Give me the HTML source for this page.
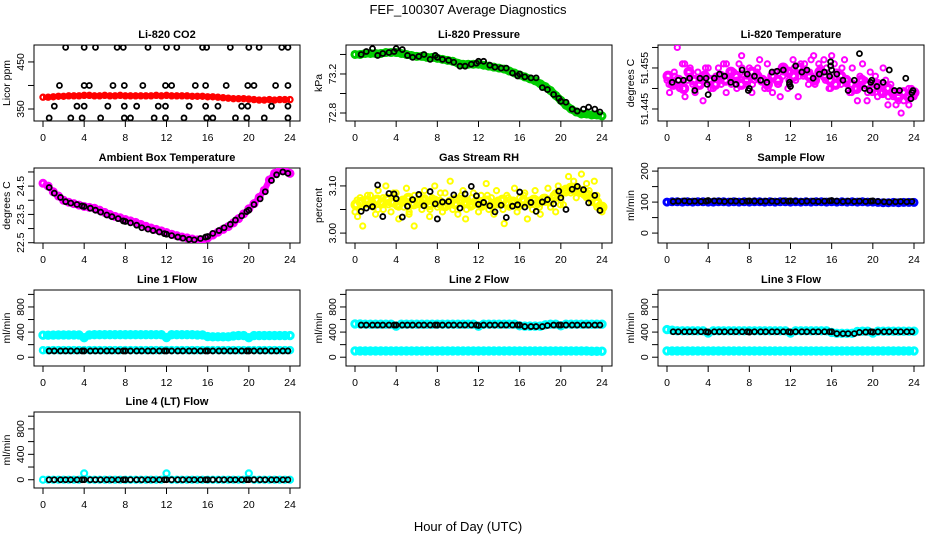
<!DOCTYPE html>
<html><head><meta charset="utf-8">
<style>
html,body{margin:0;padding:0;background:#fff;}
svg{display:block;font-family:"Liberation Sans",sans-serif;}
</style></head>
<body>
<svg id="chart" width="936" height="540" viewBox="0 0 936 540" xmlns="http://www.w3.org/2000/svg">
<text x="468" y="14" text-anchor="middle" font-size="13">FEF_100307  Average Diagnostics</text>
<text x="468" y="531" text-anchor="middle" font-size="13">Hour of Day (UTC)</text>
</svg>
<script>
// ---------- data ----------
const xTicks = [0,4,8,12,16,20,24];
const blackHours = [0.6,1.1,1.7,2.2,2.7,3.3,3.8,4.0,4.6,5.1,5.6,6.2,6.7,7.3,7.8,8.0,8.5,9.1,9.6,10.2,10.7,11.3,11.8,12.0,12.5,13.1,13.6,14.2,14.7,15.3,15.8,16.0,16.5,17.1,17.6,18.2,18.7,19.3,19.8,20.0,20.5,21.1,21.6,22.2,22.7,23.3,23.8];

const co2Red = [375,375,376,377,377,378,378,378,379,379,378,378,379,378,378,379,378,378,378,378,378,378,379,378,379,378,378,378,378,377,377,377,376,376,375,374,373,372,372,372,371,370,369,369,370,369,370,370,370];
const co2BlackX = [2.2,4,5.1,7.2,7.8,10.2,12,13,15.5,15.9,18.2,20,21,23.2,23.8, 1.6,4,4.5,6.8,7.9,9.7,11.9,12.5,14.8,15.8,17.8,19.9,20.5,22.6,23.8, 1.1,3.3,4,6.3,7.9,9.1,11.2,11.9,14.2,15.8,17,19.3,19.9,22.2,23.8, 0.6,2.7,3.8,5.6,7.9,8.5,10.8,11.9,13.7,15.9,16.5,18.7,19.8,21.5,23.8];
const co2BlackY = [481,481,481,481,481,481,481,481,481,481,481,481,481,481,481, 400,400,400,400,400,400,400,400,400,400,400,400,400,400,400, 356,356,356,356,356,356,356,356,356,356,356,356,356,356,356, 331,331,331,331,331,331,331,331,331,331,331,331,331,331,331];

const pressGreen = [73.40,73.40,73.41,73.41,73.41,73.41,73.42,73.42,73.42,73.41,73.40,73.39,73.38,73.38,73.37,73.37,73.36,73.35,73.34,73.33,73.31,73.30,73.30,73.30,73.30,73.29,73.28,73.27,73.26,73.25,73.23,73.21,73.19,73.17,73.15,73.13,73.10,73.07,73.03,72.98,72.93,72.88,72.84,72.81,72.79,72.79,72.78,72.78,72.77];
const pressBlack = [73.40,73.43,73.46,73.39,73.41,73.42,73.43,73.46,73.45,73.39,73.37,73.38,73.40,73.35,73.39,73.37,73.35,73.34,73.32,73.28,73.28,73.30,73.31,73.33,73.33,73.29,73.27,73.26,73.26,73.21,73.18,73.20,73.17,73.16,73.16,73.06,73.04,72.99,72.95,72.92,72.91,72.84,72.82,72.84,72.86,72.84,72.81];

const liTempMagenta = [51.452,51.449,51.451,51.453,51.460,51.450,51.456,51.448,51.452,51.455,51.451,51.450,51.454,51.452,51.447,51.453,51.455,51.451,51.450,51.453,51.455,51.452,51.456,51.449,51.453,51.451,51.454,51.452,51.456,51.458,51.453,51.451,51.455,51.449,51.452,51.454,51.457,51.452,51.450,51.456,51.452,51.449,51.454,51.451,51.448,51.453,51.455,51.450,51.454,51.457,51.452,51.448,51.456,51.453,51.454,51.451,51.457,51.458,51.452,51.456,51.454,51.457,51.455,51.450,51.458,51.456,51.454,51.452,51.455,51.457,51.451,51.449,51.455,51.450,51.447,51.453,51.456,51.452,51.449,51.454,51.451,51.453,51.450,51.449,51.455,51.452,51.448,51.451,51.449,51.446,51.449,51.444,51.447,51.448,51.446,51.450,51.448];
const liTempMagenta2 = [51.451,51.454,51.450,51.456,51.453,51.449,51.452,51.455,51.450,51.453,51.451,51.456,51.452,51.450,51.455,51.453,51.451,51.455,51.452,51.450,51.453,51.451,51.454,51.452,51.455,51.453,51.456,51.454,51.451,51.455,51.452,51.450,51.454,51.451,51.452,51.449,51.450,51.451,51.447,51.449,51.448,51.450,51.446,51.448,51.447,51.449,51.450,51.448];
const liTempMagenta3 = [51.453,51.451,51.452,51.450,51.454,51.452,51.451,51.453,51.452,51.451,51.453,51.452,51.454,51.453,51.451,51.452,51.454,51.453,51.452,51.451,51.453,51.452,51.455,51.454,51.453,51.455,51.454,51.453,51.452,51.454,51.453,51.452,51.451,51.453,51.452,51.451,51.450,51.452,51.451,51.450,51.451,51.449,51.450,51.449,51.448,51.449,51.448,51.449];
const liTempBlackX = [0.5,1.1,1.6,2.2,2.7,3.2,3.8,3.9,4,4.6,5.1,5.6,6.2,6.7,7.3,7.8,7.9,8,8.5,9.1,9.7,10.2,10.7,11.3,11.9,11.9,12,12.5,13.1,13.6,14.2,14.8,15.3,15.8,15.9,15.9,16,16.5,17.1,17.6,18.2,18.7,19.2,19.7,19.8,19.9,20.4,21,21.6,22.1,22.6,23.2,23.7,23.8,23.9];
const liTempBlackY = [51.4515,51.452,51.452,51.4525,51.4495,51.4525,51.4525,51.451,51.4485,51.4525,51.4535,51.453,51.4515,51.451,51.4545,51.4535,51.4495,51.450,51.453,51.452,51.4515,51.454,51.4542,51.4545,51.4515,51.451,51.4505,51.4555,51.454,51.4545,51.4525,51.4535,51.454,51.453,51.4555,51.4565,51.4545,51.4535,51.452,51.4495,51.452,51.4585,51.450,51.4495,51.4515,51.452,51.4505,51.4515,51.4545,51.4495,51.4495,51.4525,51.4475,51.449,51.4495];

const ambMagenta = [24.6,24.5,24.3,24.15,24.0,23.93,23.88,23.83,23.78,23.75,23.72,23.65,23.57,23.5,23.43,23.38,23.32,23.27,23.22,23.15,23.08,23.02,22.97,22.92,22.86,22.8,22.75,22.7,22.67,22.63,22.6,22.6,22.67,22.77,22.87,22.97,23.07,23.2,23.35,23.52,23.7,23.88,24.1,24.35,24.72,24.95,25.05,25.05,24.95];
const ambBlack = [24.45,24.25,24.1,23.95,23.9,23.85,23.8,23.78,23.72,23.65,23.58,23.48,23.42,23.35,23.27,23.25,23.2,23.12,23.03,22.98,22.93,22.88,22.82,22.8,22.75,22.7,22.66,22.62,22.6,22.65,22.7,22.72,22.83,22.93,23.03,23.15,23.3,23.45,23.6,23.65,23.85,24.05,24.3,24.7,24.9,25.0,24.95];

const rhYellow = [3.045,3.035,3.075,3.015,3.060,3.070,3.080,3.055,3.040,3.090,3.065,3.050,3.100,3.060,3.045,3.075,3.085,3.030,3.065,3.055,3.095,3.040,3.070,3.015,3.060,3.080,3.050,3.090,3.065,3.035,3.075,3.100,3.055,3.070,3.045,3.085,3.060,3.110,3.050,3.075,3.040,3.065,3.090,3.030,3.070,3.055,3.085,3.060,3.045,3.080,3.065,3.105,3.050,3.075,3.040,3.090,3.060,3.070,3.020,3.080,3.055,3.065,3.095,3.045,3.075,3.060,3.085,3.030,3.070,3.050,3.090,3.060,3.040,3.075,3.065,3.095,3.055,3.080,3.045,3.100,3.070,3.060,3.085,3.120,3.090,3.110,3.075,3.095,3.125,3.080,3.105,3.090,3.065,3.110,3.080,3.060,3.050];
const rhYellow2 = [3.070,3.055,3.080,3.060,3.050,3.075,3.065,3.085,3.055,3.070,3.045,3.080,3.060,3.075,3.050,3.065,3.085,3.055,3.070,3.060,3.080,3.050,3.075,3.065,3.055,3.080,3.060,3.070,3.050,3.075,3.065,3.055,3.080,3.060,3.070,3.055,3.075,3.065,3.085,3.060,3.095,3.085,3.100,3.090,3.075,3.070,3.055,3.045];
const rhYellow3 = [3.060,3.065,3.068,3.062,3.070,3.064,3.072,3.066,3.060,3.068,3.074,3.062,3.066,3.070,3.060,3.068,3.064,3.058,3.066,3.062,3.070,3.064,3.060,3.066,3.062,3.068,3.060,3.064,3.070,3.062,3.066,3.060,3.068,3.064,3.070,3.066,3.072,3.068,3.078,3.085,3.090,3.095,3.092,3.088,3.082,3.075,3.065,3.055];
const rhBlack = [3.046,3.053,3.056,3.102,3.035,3.084,3.083,3.073,3.034,3.057,3.071,3.082,3.058,3.088,3.062,3.030,3.066,3.067,3.081,3.053,3.083,3.099,3.079,3.061,3.065,3.058,3.045,3.059,3.033,3.057,3.060,3.087,3.055,3.065,3.046,3.066,3.071,3.062,3.089,3.075,3.050,3.093,3.099,3.092,3.064,3.080,3.048];

const sampleBlue = [100,101,101,100,101,100,101,101,100,100,101,101,100,101,100,101,100,101,101,100,101,100,101,101,100,101,100,101,100,101,101,100,101,100,101,100,101,100,101,100,100,99,98,98,99,98,99,99,99];
const sampleBlack = [102,103,104,102,103,102,103,105,104,103,102,103,103,102,103,104,103,102,103,103,102,104,103,104,103,102,103,103,102,103,104,105,103,102,103,102,103,102,103,104,102,101,100,101,102,101,102];

const line1Hi = [350,350,352,355,355,355,355,355,310,355,358,358,358,358,358,358,358,358,358,358,358,358,358,358,312,358,358,358,358,358,355,355,328,325,325,325,325,338,345,345,310,345,345,345,345,345,345,345,345];
const line1Lo = [110,110,112,112,112,112,112,112,112,112,112,112,112,112,112,112,112,112,112,112,112,112,112,112,112,112,112,112,112,112,112,112,112,112,112,112,112,112,112,112,112,112,112,112,112,112,112,112,112];
const line1Black = [100,100,100,100,100,100,100,100,100,100,100,100,100,100,100,100,100,100,100,100,100,100,100,100,100,100,100,100,100,100,100,100,100,100,100,100,100,100,100,100,100,100,100,100,100,100,100];

const line2Hi = [530,530,525,525,525,525,525,525,495,525,525,525,525,525,525,525,525,525,525,525,525,525,525,525,495,525,525,525,525,525,525,525,500,495,495,495,495,515,525,525,500,525,525,525,525,525,525,525,525];
const line2Lo = [100,100,100,100,100,100,100,100,100,100,100,100,100,100,100,100,100,100,100,100,100,100,100,100,100,100,100,100,100,100,100,100,100,100,100,100,100,100,100,100,100,100,100,100,100,100,95,95,95];
const line2Black = [512,512,512,512,512,512,512,512,512,512,512,512,512,512,512,512,512,512,512,512,512,512,512,505,512,512,512,512,512,512,512,512,488,488,488,488,505,512,512,512,512,512,512,512,512,512,512];

const line3Hi = [440,430,420,420,420,420,420,420,385,420,420,420,420,420,420,420,420,420,420,420,420,420,420,420,385,420,420,420,420,420,420,420,395,380,380,380,380,410,415,415,385,415,415,415,415,415,415,415,415];
const line3Lo = [100,100,100,100,100,100,100,100,100,100,100,100,100,100,100,100,100,100,100,100,100,100,100,100,100,100,100,100,100,100,100,100,100,100,100,100,100,100,100,100,100,100,100,100,100,100,100,100,100];
const line3Black = [405,405,405,405,405,405,405,400,405,405,405,405,405,405,405,400,405,405,405,405,405,405,405,400,405,405,405,405,405,405,405,405,375,375,375,375,395,400,405,400,405,405,405,405,405,405,405];

const line4Cyan = [0,0,0,0,0,0,0,0,100,0,0,0,0,0,0,0,0,0,0,0,0,0,0,0,100,0,0,0,0,0,0,0,0,0,0,0,0,0,0,0,100,0,0,0,0,0,0,0,0];
const line4Black = [0,0,0,0,0,0,0,0,0,0,0,0,0,0,0,0,0,0,0,0,0,0,0,0,0,0,0,0,0,0,0,0,0,0,0,0,0,0,0,0,0,0,0,0,0,0,0];

// ---------- drawing ----------
const NS = "http://www.w3.org/2000/svg";
const svg = document.getElementById("chart");
const colX = [34,346,658];
const rowY = [[45,121],[168,243],[290,366],[412,488]];
const BOXW = 266;

function mk(tag){ return document.createElementNS(NS, tag); }

function makePanel(col,row,title,ylab,yMin,yMax,ticks,labels,key){
  const x0 = colX[col], yT = rowY[row][0], yB = rowY[row][1];
  const g = mk("g");
  
  
  svg.appendChild(g);
  const P = {g, xs:h => x0 + 9 + h*(247/24), ys:v => yB - (v - yMin)/(yMax - yMin)*(yB - yT)};
  const rect = mk("rect");
  
  
  rect.setAttribute("x", x0); rect.setAttribute("y", yT);
  rect.setAttribute("width", BOXW); rect.setAttribute("height", yB - yT);
  rect.setAttribute("fill", "none"); rect.setAttribute("stroke", "#000"); rect.setAttribute("stroke-width", "1");
  g.appendChild(rect);
  const t = mk("text");
  
  
  t.setAttribute("x", x0 + BOXW/2); t.setAttribute("y", yT - 7);
  t.setAttribute("text-anchor", "middle"); t.setAttribute("font-size", "11"); t.setAttribute("font-weight", "bold");
  t.textContent = title; g.appendChild(t);
  xTicks.forEach(h => {
    const px = P.xs(h);
    const l = mk("line");
    
    
    l.setAttribute("x1", px); l.setAttribute("x2", px); l.setAttribute("y1", yB); l.setAttribute("y2", yB + 6);
    l.setAttribute("stroke", "#000"); g.appendChild(l);
    const tx = mk("text");
    
    
    tx.setAttribute("x", px); tx.setAttribute("y", yB + 20);
    tx.setAttribute("text-anchor", "middle"); tx.setAttribute("font-size", "10.5");
    tx.textContent = h; g.appendChild(tx);
  });
  const ax = mk("line");
  
  
  ax.setAttribute("x1", P.xs(0)); ax.setAttribute("x2", P.xs(24)); ax.setAttribute("y1", yB); ax.setAttribute("y2", yB);
  ax.setAttribute("stroke", "#000"); g.appendChild(ax);
  ticks.forEach((v,i) => {
    const py = P.ys(v);
    const l = mk("line");
    
    
    l.setAttribute("x1", x0 - 6); l.setAttribute("x2", x0); l.setAttribute("y1", py); l.setAttribute("y2", py);
    l.setAttribute("stroke", "#000"); g.appendChild(l);
    if (labels[i] !== "") {
      const tx = mk("text");
      
      
      tx.setAttribute("transform", `translate(${x0 - 10},${py}) rotate(-90)`);
      tx.setAttribute("text-anchor", "middle"); tx.setAttribute("font-size", "10.5");
      tx.textContent = labels[i]; g.appendChild(tx);
    }
  });
  const yl = mk("text");
  
  
  yl.setAttribute("transform", `translate(${x0 - 24},${(yT + yB)/2}) rotate(-90)`);
  yl.setAttribute("text-anchor", "middle"); yl.setAttribute("font-size", "10.5");
  yl.textContent = ylab; g.appendChild(yl);
  const clip = mk("clipPath");
  clip.setAttribute("id", "clip-" + key);
  const cr = mk("rect");
  cr.setAttribute("x", x0); cr.setAttribute("y", yT); cr.setAttribute("width", BOXW); cr.setAttribute("height", yB - yT);
  clip.appendChild(cr); svg.appendChild(clip);
  const pg = mk("g");
  
  
  pg.setAttribute("clip-path", `url(#clip-${key})`);
  g.appendChild(pg);
  P.pg = pg;
  return P;
}

function pts(P, hours, vals, color, r, sw, name){
  vals.forEach((v,i) => {
    const c = mk("circle");
    
    
    c.setAttribute("cx", P.xs(hours[i]));
    c.setAttribute("cy", P.ys(v));
    c.setAttribute("r", r);
    c.setAttribute("fill", "none");
    c.setAttribute("stroke", color);
    c.setAttribute("stroke-width", sw);
    P.pg.appendChild(c);
  });
}
function band(P, hours, vals, color, w, name){
  const pl = mk("polyline");
  
  
  pl.setAttribute("points", vals.map((v,i) => P.xs(hours[i]) + "," + P.ys(v)).join(" "));
  pl.setAttribute("fill", "none");
  pl.setAttribute("stroke", color);
  pl.setAttribute("stroke-width", w);
  pl.setAttribute("stroke-linejoin", "round");
  P.pg.appendChild(pl);
}
function evenHours(n, off){ const a=[]; for(let i=0;i<n;i++) a.push(off + i*(24-off)/(n-1)); return a; }

const BR = 2.5, BW = 1.8;
let H;
// Li-820 CO2
let P = makePanel(0,0,"Li-820 CO2","Licor ppm",324.5,486,[350,400,450],["350","","450"],"co2");
H = evenHours(co2Red.length,0);
band(P, H, co2Red, "#ff0000", 5, "co2-red-band");
pts(P, H, co2Red, "#ff0000", 2.6, 2.2, "co2-red-point");
pts(P, co2BlackX, co2BlackY, "#000", BR, BW, "co2-black-point");
// Pressure
P = makePanel(1,0,"Li-820 Pressure","kPa",72.718,73.497,[72.8,73.0,73.2,73.4],["72.8","","73.2",""],"pressure");
H = evenHours(pressGreen.length,0);
band(P, H, pressGreen, "#00cc00", 8, "pressure-green-band");
pts(P, H, pressGreen, "#00cc00", 3, 3, "pressure-green-point");
pts(P, blackHours, pressBlack, "#000", BR, BW, "pressure-black-point");
// Li-820 Temperature
P = makePanel(2,0,"Li-820 Temperature","degrees C",51.44207,51.4606,[51.445,51.450,51.455,51.460],["51.445","","51.455",""],"li-temp");
pts(P, evenHours(liTempMagenta3.length,0.1), liTempMagenta3, "#ff00ff", 3.5, 4, "li-temp-magenta-point");
pts(P, evenHours(liTempMagenta.length,0), liTempMagenta, "#ff00ff", 2.6, 2, "li-temp-magenta-point");
pts(P, evenHours(liTempMagenta2.length,0.2), liTempMagenta2, "#ff00ff", 2.6, 2, "li-temp-magenta-point");
pts(P, liTempBlackX, liTempBlackY, "#000", BR, BW, "li-temp-black-point");
// Ambient Box Temperature
P = makePanel(0,1,"Ambient Box Temperature","degrees C",22.49,25.14,[22.5,23.0,23.5,24.0,24.5,25.0],["22.5","","23.5","","24.5",""],"ambient");
H = evenHours(ambMagenta.length,0);
band(P, H, ambMagenta, "#ff00ff", 6, "ambient-magenta-band");
pts(P, H, ambMagenta, "#ff00ff", 3, 3, "ambient-magenta-point");
pts(P, blackHours, ambBlack, "#000", BR, BW, "ambient-black-point");
// Gas Stream RH
P = makePanel(1,1,"Gas Stream RH","percent",2.979,3.138,[3.00,3.05,3.10],["3.00","","3.10"],"rh");
pts(P, evenHours(rhYellow3.length,0.1), rhYellow3, "#ffff00", 3.5, 4, "rh-yellow-point");
pts(P, evenHours(rhYellow.length,0), rhYellow, "#ffff00", 2.6, 2, "rh-yellow-point");
pts(P, evenHours(rhYellow2.length,0.2), rhYellow2, "#ffff00", 2.6, 2, "rh-yellow-point");
pts(P, blackHours, rhBlack, "#000", BR, BW, "rh-black-point");
// Sample Flow
P = makePanel(2,1,"Sample Flow","ml/min",-32,210,[0,50,100,150,200],["0","","100","","200"],"sample-flow");
H = evenHours(sampleBlue.length,0);
band(P, H, sampleBlue, "#0000ff", 7, "sample-flow-blue-band");
pts(P, H, sampleBlue, "#0000ff", 3, 3, "sample-flow-blue-point");
pts(P, blackHours, sampleBlack, "#000", BR, BW, "sample-flow-black-point");
// Line flows
const fT = [0,200,400,600,800,1000], fL = ["0","","400","","800",""];
P = makePanel(0,2,"Line 1 Flow","ml/min",-140,1070,fT,fL,"line1");
H = evenHours(line1Hi.length,0);
band(P, H, line1Hi, "#00ffff", 6, "line1-cyan-band");
pts(P, H, line1Hi, "#00ffff", 3.2, 3, "line1-cyan-point");
band(P, H, line1Lo, "#00ffff", 5, "line1-cyan-band");
pts(P, H, line1Lo, "#00ffff", 3, 2.5, "line1-cyan-point");
pts(P, blackHours, line1Black, "#000", BR, BW, "line1-black-point");
P = makePanel(1,2,"Line 2 Flow","ml/min",-140,1070,fT,fL,"line2");
H = evenHours(line2Hi.length,0);
band(P, H, line2Hi, "#00ffff", 6, "line2-cyan-band");
pts(P, H, line2Hi, "#00ffff", 3.2, 3, "line2-cyan-point");
band(P, H, line2Lo, "#00ffff", 6, "line2-cyan-band");
pts(P, H, line2Lo, "#00ffff", 3.2, 3, "line2-cyan-point");
pts(P, blackHours, line2Black, "#000", BR, BW, "line2-black-point");
P = makePanel(2,2,"Line 3 Flow","ml/min",-140,1070,fT,fL,"line3");
H = evenHours(line3Hi.length,0);
band(P, H, line3Hi, "#00ffff", 6, "line3-cyan-band");
pts(P, H, line3Hi, "#00ffff", 3.2, 3, "line3-cyan-point");
band(P, H, line3Lo, "#00ffff", 6, "line3-cyan-band");
pts(P, H, line3Lo, "#00ffff", 3.2, 3, "line3-cyan-point");
pts(P, blackHours, line3Black, "#000", BR, BW, "line3-black-point");
P = makePanel(0,3,"Line 4 (LT) Flow","ml/min",-130,1066,fT,fL,"line4");
pts(P, evenHours(line4Cyan.length,0), line4Cyan, "#00ffff", 3, 2.2, "line4-cyan-point");
pts(P, blackHours, line4Black, "#000", BR, BW, "line4-black-point");
</script>
</body></html>
